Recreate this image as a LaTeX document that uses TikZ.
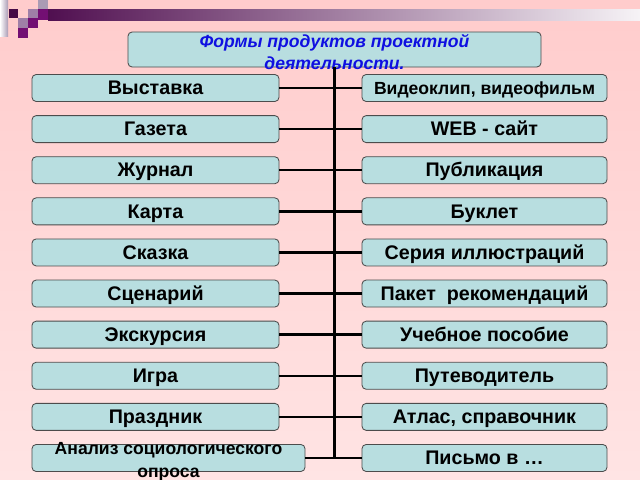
\documentclass[tikz,border=0pt]{standalone}
\usepackage{fontspec}
\setmainfont{Liberation Sans}
\usetikzlibrary{calc}
\definecolor{boxfill}{RGB}{184,222,224}
\definecolor{bgpink}{RGB}{255,204,204}
\definecolor{bgpinklight}{RGB}{255,228,228}
\definecolor{barpurple}{RGB}{80,15,80}
\definecolor{sqpurple}{RGB}{115,15,115}
\definecolor{sqdark}{RGB}{70,10,70}
\definecolor{sqgray}{RGB}{170,155,180}
\definecolor{titleblue}{RGB}{15,15,225}
\tikzset{
	form/.style={draw=black!70, fill=boxfill, rounded corners=3pt, line width=0.6pt,
		minimum height=0.675cm, inner sep=0pt, text height=1.8ex, text depth=0pt,
		font=\fontsize{14}{16}\selectfont\bfseries},
	leftform/.style={form, minimum width=6.175cm},
	rightform/.style={form, minimum width=6.125cm},
	link/.style={line width=1.7pt}
}
\begin{document}
\begin{tikzpicture}[x=0.025cm,y=-0.025cm]
	\def\top{88}	%centre of first row
	\def\h{41.11}	%row spacing
	\useasboundingbox (0,0) rectangle (640,480);
	\shade[top color=bgpink, bottom color=bgpinklight] (0,0) rectangle (640,480);	%background

	%corner ornament
	\shade[left color=white, right color=sqgray] (0,0) rectangle (8,36);
	\shade[left color=barpurple, right color=white!95!barpurple] (48,9) rectangle (640,20);
	\fill[sqdark] (9,9) rectangle (18,18);
	\fill[sqgray] (38,0) rectangle (48,9);
	\fill[sqgray!80!sqpurple] (28,9) rectangle (38,18);
	\fill[sqpurple] (38,9) rectangle (48,20);
	\fill[sqgray!80!sqpurple] (18,18) rectangle (28,28);
	\fill[sqpurple] (28,18) rectangle (38,28);
	\fill[sqpurple] (18,28) rectangle (28,38);

	\node[form, minimum width=10.325cm, minimum height=0.875cm] (title) at (334.5,49.5) {};
	\node[text=titleblue, align=center, font=\fontsize{12.5}{15}\selectfont\bfseries\itshape] (titlelbl) at (334.5,52) {Формы продуктов проектной\\деятельности.};

	\foreach \i/\l/\r in {1/Выставка/{\fontsize{12.5}{14}\selectfont Видеоклип, видеофильм},
		2/Газета/WEB - сайт, 3/Журнал/Публикация, 4/Карта/Буклет,
		5/Сказка/Серия иллюстраций, 6/Сценарий/Пакет\ \ рекомендаций,
		7/Экскурсия/Учебное пособие, 8/Игра/Путеводитель,
		9/Праздник/{Атлас, справочник}}{
		\node[leftform] (L\i) at (155.5,{\top+(\i-1)*\h}) {\l};
		\node[rightform] (R\i) at (484.5,{\top+(\i-1)*\h}) {\r};
		\draw[link] (L\i.east) -- (R\i.west);
	}
	\node[form, minimum width=6.825cm] (L10) at (168.5,{\top+9*\h}) {};
	\node[align=center, font=\fontsize{12.5}{16}\selectfont\bfseries] (L10lbl) at (168.5,{\top+9*\h+4}) {Анализ социологического\\опроса};
	\node[rightform] (R10) at (484.5,{\top+9*\h}) {Письмо в \dots};
	\draw[link] (L10.east) -- (R10.west);

	\draw[link] (title.south) -- (title.south |- L10.east);	%trunk
\end{tikzpicture}
\end{document}
